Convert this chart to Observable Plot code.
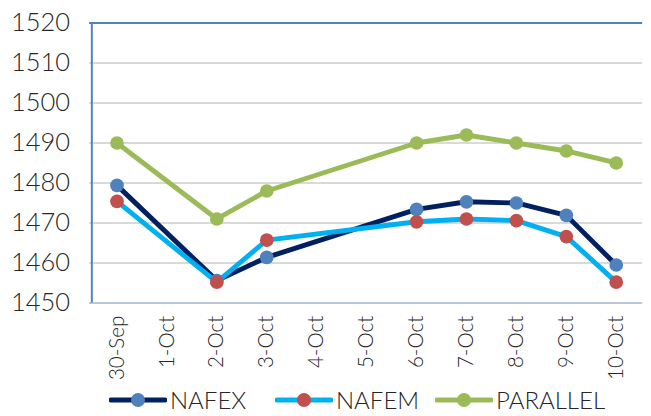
<!DOCTYPE html>
<html>
<head>
<meta charset="utf-8">
<script src="https://cdn.jsdelivr.net/npm/d3@7"></script>
<script src="https://cdn.jsdelivr.net/npm/@observablehq/plot@0.6"></script>
<style>
  html, body { margin: 0; padding: 0; background: #fff; overflow: hidden; width: 651px; height: 416px; }
  #chart { position: relative; width: 651px; height: 416px; font-family: Lato, sans-serif; font-weight: 300; }
  .item { position: absolute; top: 386px; height: 28px; display: flex; align-items: center; font-size: 24px; color: #262626; line-height: 28px; white-space: nowrap; }
  .item svg { margin-right: 3px; }
</style>
</head>
<body>
<div id="chart"></div>
<script>
const days = ["30-Sep","1-Oct","2-Oct","3-Oct","4-Oct","5-Oct","6-Oct","7-Oct","8-Oct","9-Oct","10-Oct"];
const obsDays = ["30-Sep","2-Oct","3-Oct","6-Oct","7-Oct","8-Oct","9-Oct","10-Oct"];
const nafex = [1479.4,1455.6,1461.4,1473.4,1475.3,1475.0,1471.9,1459.5];
const nafem = [1475.4,1455.2,1465.7,1470.3,1471.0,1470.6,1466.6,1455.2];
const parallel = [1490,1471,1478,1490,1492,1490,1488,1485];
const yTicks = [1450,1460,1470,1480,1490,1500,1510,1520];
const seriesNames = ["NAFEX","NAFEM","PARALLEL"];
const lineColors = ["#002060","#00B0F0","#9BBB59"];
const dotColors = ["#4F81BD","#C0504D","#9BBB59"];

const seriesVals = [nafex, nafem, parallel];
const rows = seriesNames.map((s, i) => obsDays.map((d, j) => ({series: s, day: d, value: seriesVals[i][j]})));

const marks = [
  Plot.ruleY(yTicks.filter(t => t > 1450 && t < 1520), {stroke: "#D9D9D9", strokeWidth: 2}),
  Plot.ruleY([1450], {stroke: "#B8C7DC", strokeWidth: 2}),
  Plot.ruleY([1520], {stroke: "#4F81BD", strokeWidth: 2})
];
rows.forEach((r, i) => marks.push(Plot.line(r, {x: "day", y: "value", stroke: lineColors[i], strokeWidth: 5, curve: "linear"})));
rows.forEach((r, i) => marks.push(Plot.dot(r, {x: "day", y: "value", fill: dotColors[i], r: 7, stroke: "none"})));

const plot = Plot.plot({
  width: 665,
  height: 390,
  marginLeft: 91,
  marginRight: 9,
  marginTop: 23,
  marginBottom: 81,
  style: {fontFamily: "Lato, sans-serif", fontWeight: 300, color: "#262626", background: "transparent", overflow: "visible"},
  x: {type: "point", domain: days, padding: 0.5, label: null},
  y: {domain: [1450, 1520], label: null},
  marks: [
    ...marks,
    Plot.axisY({ticks: yTicks, tickFormat: d3.format("d"), tickSize: 0, tickPadding: 20, fontSize: 26, label: null}),
    Plot.axisX({tickSize: 0, tickRotate: -90, tickPadding: 13, fontSize: 21, label: null}),
    Plot.ruleX([days[0]], {dx: -25.7, y1: 1450, y2: 1520, stroke: "#4F81BD", strokeWidth: 2})
  ]
});
document.getElementById("chart").appendChild(plot);

const legendLeft = [109, 275, 435];
seriesNames.forEach((s, i) => {
  const item = document.createElement("div");
  item.className = "item";
  item.style.left = legendLeft[i] + "px";
  item.innerHTML = `<svg width="58" height="16"><line x1="2" y1="8" x2="56" y2="8" stroke="${lineColors[i]}" stroke-width="5" stroke-linecap="round"/><circle cx="29" cy="8" r="7" fill="${dotColors[i]}"/></svg><span>${s}</span>`;
  document.getElementById("chart").appendChild(item);
});
</script>
</body>
</html>
